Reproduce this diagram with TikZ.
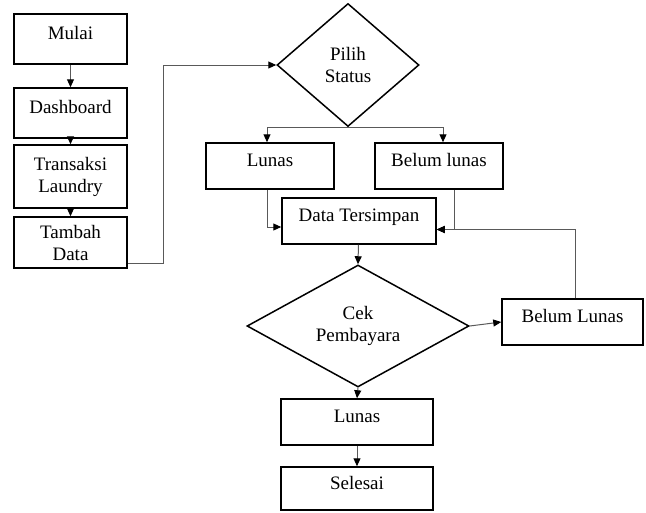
\documentclass[tikz,border=0pt]{standalone}
\usepackage{fontspec}
\setmainfont{Liberation Serif}
\usetikzlibrary{shapes.geometric,arrows.meta}
\begin{document}
\begin{tikzpicture}[x=1pt,y=-1pt,
  box/.style={draw=black,line width=1.5pt,rectangle,inner sep=0pt,font=\fontsize{19}{22}\selectfont,align=center},
  onebox/.style={box,text height=11pt,text depth=10pt},
  dec/.style={draw=black,line width=1.5pt,diamond,inner sep=0pt,font=\fontsize{19}{22}\selectfont,align=center},
  conn/.style={draw=black!65,line width=1pt,-{Triangle[length=8pt,width=7pt,fill=black,color=black]}},
  plain/.style={draw=black!65,line width=1pt}]
\useasboundingbox (0,0) rectangle (646,512);
% left column
\node[onebox,minimum width=113pt,minimum height=50pt] (mulai) at (70.5,39) {Mulai};
\node[onebox,minimum width=113pt,minimum height=50pt] (dash) at (70.5,113) {Dashboard};
\node[box,minimum width=113pt,minimum height=63pt] (trans) at (70.5,176.5) {Transaksi\\Laundry};
\node[box,minimum width=113pt,minimum height=51pt] (tambah) at (70.5,242.5) {Tambah\\Data};
% decision 1
\node[dec,minimum width=142pt,minimum height=123pt,aspect=1.15] (pilih) at (348,65) {Pilih\\Status};
\node[onebox,minimum width=128pt,minimum height=46pt] (lunasA) at (270,166) {Lunas};
\node[onebox,minimum width=128pt,minimum height=46pt] (belumA) at (439,166) {Belum lunas};
\node[onebox,minimum width=154pt,minimum height=46pt] (data) at (359,221) {Data Tersimpan};
% decision 2
\node[dec,minimum width=222pt,minimum height=122pt,aspect=1.8] (cek) at (358,326) {Cek\\Pembayara};
\node[onebox,minimum width=141pt,minimum height=46pt] (belumB) at (572.5,322) {Belum Lunas};
\node[onebox,minimum width=152pt,minimum height=46pt] (lunasB) at (357,422) {Lunas};
\node[onebox,minimum width=152pt,minimum height=43pt] (selesai) at (357,488.5) {Selesai};
% connectors
\draw[conn] (mulai) -- (dash);
\draw[conn] (dash) -- (trans);
\draw[conn] (trans) -- (tambah);
\coordinate (tA) at ([yshift=-20.5pt]tambah.east);
\draw[conn] (tA) -- ++(36,0) |- (pilih.west);
\coordinate (lA) at ([xshift=-3pt]lunasA.north);
\coordinate (bA) at ([xshift=4pt]belumA.north);
\draw[conn] (pilih.south) -| (lA);
\draw[conn] (pilih.south) -| (bA);
\coordinate (lAs) at ([xshift=-3pt]lunasA.south);
\coordinate (dW) at ([yshift=-6pt]data.west);
\draw[conn] (lAs) |- (dW);
\coordinate (bAs) at ([xshift=15pt]belumA.south);
\coordinate (dE) at ([yshift=-8.5pt]data.east);
\draw[conn] (bAs) |- (dE);
\coordinate (bBn) at ([xshift=2.5pt]belumB.north);
\draw[conn] (bBn) |- (dE);
\draw[conn] (data) -- (cek.north);
\draw[conn] (cek.east) -- (belumB.west);
\draw[conn] (cek.south) -- (lunasB.north);
\draw[conn] (lunasB) -- (selesai);
\end{tikzpicture}
\end{document}
